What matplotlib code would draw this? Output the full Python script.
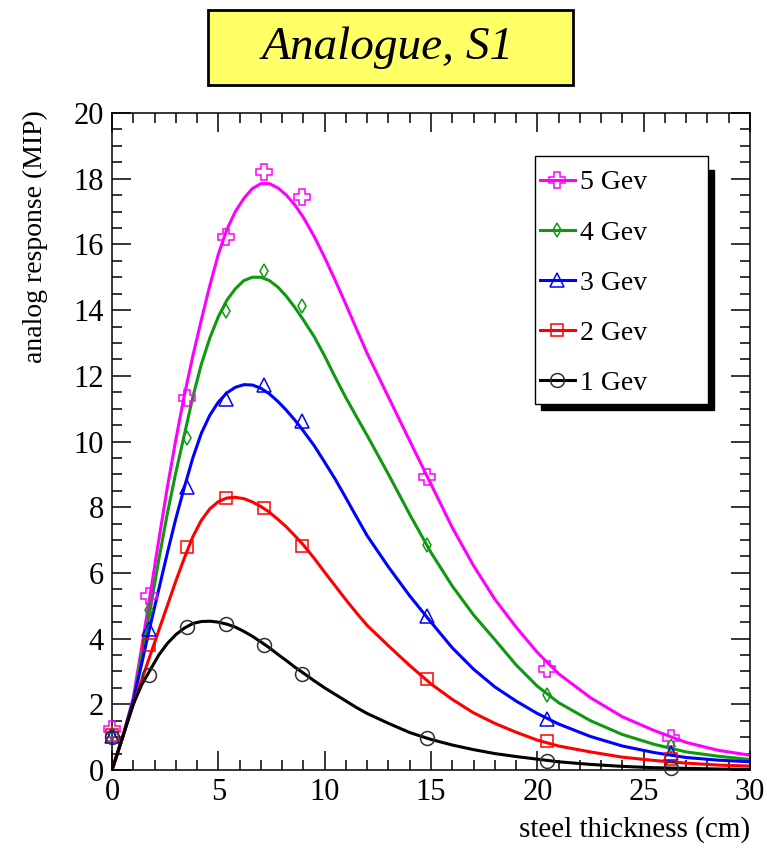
import numpy as np
import matplotlib
matplotlib.use("Agg")
from matplotlib import pyplot as plt
from matplotlib.patches import Rectangle

plt.rcParams['font.family'] = ['Liberation Serif', 'DejaVu Serif']

# measured points (steel thickness in cm)
x_pts = [0, 1.75, 3.55, 5.35, 7.15, 8.95, 14.8, 20.45, 26.3]
y_1gev = [1.0, 2.89, 4.36, 4.43, 3.82, 2.93, 0.96, 0.27, 0.07]
y_2gev = [1.08, 3.82, 6.8, 8.29, 7.98, 6.83, 2.76, 0.88, 0.32]
y_3gev = [1.05, 4.28, 8.6, 11.29, 11.72, 10.62, 4.68, 1.55, 0.52]
y_4gev = [1.1, 4.88, 10.12, 13.98, 15.18, 14.14, 6.85, 2.28, 0.74]
y_5gev = [1.25, 5.3, 11.33, 16.23, 18.2, 17.43, 8.93, 3.06, 0.98]

# fitted curves
x_fit = [0, 0.5, 1.0, 1.4, 1.8, 2.2, 2.6, 3.0, 3.4, 3.8, 4.2, 4.6, 5.0, 5.4, 5.8, 6.2,
         6.6, 7.0, 7.4, 7.8, 8.2, 8.6, 9.0, 9.5, 10.0, 10.5, 11.0, 11.5, 12.0, 13.0,
         14.0, 15.0, 16.0, 17.0, 18.0, 19.0, 20.0, 21.0, 22.5, 24.0, 25.5, 27.0, 28.5, 30.0]
f_1gev = [0, 1.0, 2.0, 2.6, 3.05, 3.5, 3.85, 4.12, 4.32, 4.46, 4.52, 4.53, 4.5, 4.44, 4.35, 4.22,
          4.07, 3.9, 3.72, 3.52, 3.33, 3.13, 2.95, 2.72, 2.5, 2.3, 2.1, 1.9, 1.72, 1.42,
          1.14, 0.93, 0.76, 0.62, 0.5, 0.41, 0.33, 0.25, 0.17, 0.11, 0.07, 0.05, 0.03, 0.02]
f_2gev = [0, 1.0, 2.0, 2.75, 3.5, 4.25, 5.0, 5.75, 6.45, 7.1, 7.6, 7.95, 8.17, 8.28, 8.3, 8.26,
          8.16, 8.02, 7.85, 7.63, 7.4, 7.13, 6.85, 6.45, 6.02, 5.6, 5.18, 4.78, 4.4, 3.78,
          3.18, 2.62, 2.15, 1.74, 1.42, 1.15, 0.91, 0.73, 0.55, 0.39, 0.29, 0.21, 0.15, 0.12]
f_3gev = [0, 1.0, 2.1, 3.25, 4.4, 5.5, 6.6, 7.65, 8.6, 9.5, 10.25, 10.8, 11.2, 11.48, 11.65, 11.73,
          11.72, 11.62, 11.45, 11.22, 10.95, 10.65, 10.32, 9.88, 9.37, 8.85, 8.28, 7.7, 7.13, 6.18,
          5.3, 4.5, 3.72, 3.07, 2.53, 2.1, 1.72, 1.4, 1.02, 0.73, 0.53, 0.38, 0.3, 0.25]
f_4gev = [0, 1.0, 2.1, 3.5, 4.9, 6.4, 7.8, 9.05, 10.2, 11.35, 12.35, 13.15, 13.8, 14.3, 14.65, 14.9,
          15.0, 15.0, 14.9, 14.7, 14.42, 14.08, 13.7, 13.2, 12.6, 11.95, 11.33, 10.75, 10.18, 9.0,
          7.78, 6.62, 5.6, 4.72, 3.97, 3.2, 2.55, 2.05, 1.5, 1.08, 0.78, 0.55, 0.42, 0.32]
f_5gev = [0, 1.0, 2.2, 3.75, 5.36, 7.0, 8.6, 10.05, 11.4, 12.6, 13.7, 14.75, 15.7, 16.45, 17.0, 17.4,
          17.7, 17.85, 17.85, 17.72, 17.5, 17.2, 16.82, 16.25, 15.6, 14.9, 14.17, 13.42, 12.68, 11.35,
          10.02, 8.7, 7.38, 6.22, 5.2, 4.35, 3.58, 2.93, 2.2, 1.62, 1.2, 0.84, 0.6, 0.45]

labels = ['5 Gev', '4 Gev', '3 Gev', '2 Gev', '1 Gev']
colors = ['#ff00ff', '#109810', '#0000ff', '#ff0000', '#000000']
markers = ['P', 'd', '^', 's', 'o']
msizes = [11, 7, 10, 9, 10]
points = [y_5gev, y_4gev, y_3gev, y_2gev, y_1gev]
fits = [f_5gev, f_4gev, f_3gev, f_2gev, f_1gev]

fig = plt.figure(figsize=(7.67, 8.48), dpi=100)
ax = fig.add_axes([112 / 767, 1 - 770 / 848, 638 / 767, 657 / 848])

handles = []
for lab, c, m, ms, yp, yf in zip(labels, colors, markers, msizes, points, fits):
    ax.plot(x_fit, yf, '-', color=c, lw=2.2, zorder=2)
    mc = '#303030' if c == '#000000' else c
    ax.plot(x_pts, yp, linestyle='none', marker=m, ms=ms, mfc='none', mec=mc,
            mew=1.1, zorder=3, clip_on=False)
    h, = ax.plot([], [], '-', color=c, lw=2.2, marker=m, ms=ms, mfc='none', mec=mc, mew=1.1)
    handles.append(h)

ax.set_xlim(0, 30)
ax.set_ylim(0, 20)
ax.set_xticks(np.arange(0, 31, 5))
ax.set_xticks(np.arange(0, 31, 1), minor=True)
ax.set_yticks(np.arange(0, 21, 2))
ax.set_yticks(np.arange(0, 20.1, 0.5), minor=True)
ax.tick_params(which='both', direction='in', top=True, right=True, width=1.1,
               labelsize=22, pad=6)
ax.tick_params(which='major', length=14)
ax.tick_params(which='minor', length=7)
for s in ax.spines.values():
    s.set_linewidth(1.1)

# legend box with black shadow
x0, y0, w, hgt = (535 - 112) / 638, (770 - 404) / 657, 173 / 638, 248 / 657
ax.add_patch(Rectangle((x0 + 6 / 638, y0 - 6 / 657), w, hgt - 8 / 657, transform=ax.transAxes,
                       facecolor='black', edgecolor='black', zorder=8, clip_on=False))
ax.add_patch(Rectangle((x0, y0), w, hgt, transform=ax.transAxes, facecolor='white',
                       edgecolor='black', lw=1.0, zorder=9, clip_on=False))
leg = ax.legend(handles, labels, loc='upper left',
                bbox_to_anchor=(x0 - 5 / 638, y0 + hgt - 4 / 657),
                frameon=False, fontsize=20, handlelength=1.25, handletextpad=0.2,
                labelspacing=0.89, borderpad=0.36, borderaxespad=0)
leg.set_zorder(10)

# title box
fig.patches.append(Rectangle((208 / 767, 1 - 85 / 848), 365 / 767, 75 / 848,
                             transform=fig.transFigure, facecolor='#ffff66',
                             edgecolor='black', lw=2, zorder=1))
fig.text(388 / 767, 1 - 48 / 848, 'Analogue, S1', fontsize=34, style='italic',
         ha='center', va='center', zorder=2)

fig.text(750 / 767, 1 - 830 / 848, 'steel thickness (cm)', fontsize=21,
         ha='right', va='center')
fig.text(35 / 767, 1 - 110 / 848, 'analog response (MIP)', fontsize=20,
         rotation=90, ha='center', va='top')

fig.savefig('out.png', dpi=100)
